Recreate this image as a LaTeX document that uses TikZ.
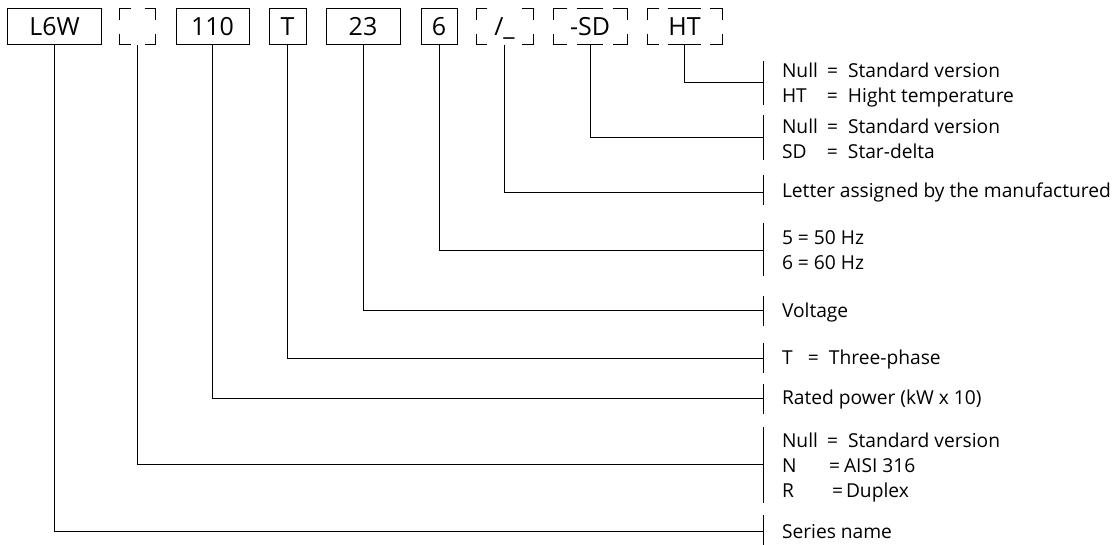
\documentclass[tikz,border=0pt]{standalone}
\usepackage{fontspec}
\setmainfont{Open Sans}
\newcommand\eqln[4]{\makebox[#2pt][l]{#1}\makebox[#3pt][l]{=}#4}
\newcommand\dcorners[3]{%
  \draw ([xshift=#2]#1.north west) -- (#1.north west) -- ([yshift=-#3]#1.north west);
  \draw ([xshift=-#2]#1.north east) -- (#1.north east) -- ([yshift=-#3]#1.north east);
  \draw ([xshift=#2]#1.south west) -- (#1.south west) -- ([yshift=#3]#1.south west);
  \draw ([xshift=-#2]#1.south east) -- (#1.south east) -- ([yshift=#3]#1.south east);}
\begin{document}
\begin{tikzpicture}[x=1pt,y=-1pt,line width=1pt,
  sbox/.style={draw,minimum height=36pt,inner sep=0pt,text height=17pt,text depth=0pt,
    font=\fontsize{25}{30}\selectfont},
  dbox/.style={sbox,draw=none,outer sep=0pt},
  desc/.style={anchor=base west,inner sep=0pt,font=\fontsize{19.2}{24}\selectfont},
  barline/.style={line width=1pt}]
\useasboundingbox (0,0) rectangle (1120,545);
% code boxes
\node[sbox,minimum width=94pt] (b1) at (54.5,27) {L6W};
\node[dbox,minimum width=36pt] (b2) at (137.5,27) {};
\node[sbox,minimum width=73pt] (b3) at (212.5,27) {110};
\node[sbox,minimum width=37pt] (b4) at (287.5,27) {T};
\node[sbox,minimum width=74pt] (b5) at (363,27) {23};
\node[sbox,minimum width=36pt] (b6) at (439,27) {6};
\node[dbox,minimum width=57pt] (b7) at (504.5,27) {/\_};
\node[dbox,minimum width=74pt] (b8) at (590,27) {-SD};
\node[dbox,minimum width=75pt] (b9) at (684.5,27) {HT};
% dashed outlines
\dcorners{b2}{11pt}{11pt}
\dcorners{b7}{11pt}{11pt}
\dcorners{b8}{14pt}{11pt}
\dcorners{b9}{12pt}{11pt}
\draw ([xshift=-13pt]b8.north) -- ([xshift=13pt]b8.north);
\draw ([xshift=-13pt]b8.south) -- ([xshift=13pt]b8.south);
\draw ([xshift=-17pt]b9.north) -- ([xshift=16pt]b9.north);
\draw ([xshift=-17pt]b9.south) -- ([xshift=16pt]b9.south);
% end points
\coordinate (e9) at (763,83);
\coordinate (e8) at (763,138);
\coordinate (e7) at (763,193);
\coordinate (e6) at (763,251);
\coordinate (e5) at (763,311);
\coordinate (e4) at (763,359);
\coordinate (e3) at (763,399);
\coordinate (e2) at (763,464);
\coordinate (e1) at (763,531);
% bars
\draw[barline] (763,61) -- (763,105);
\draw[barline] (763,115) -- (763,160);
\draw[barline] (763,175) -- (763,205);
\draw[barline] (763,223) -- (763,276);
\draw[barline] (763,296) -- (763,326);
\draw[barline] (763,343) -- (763,373);
\draw[barline] (763,384) -- (763,414);
\draw[barline] (763,427) -- (763,503);
\draw[barline] (763,515) -- (763,545);
% connectors
\draw (b9.south) |- (e9);
\draw (b8.south) |- (e8);
\draw (b7.south) |- (e7);
\draw (b6.south) |- (e6);
\draw (b5.south) |- (e5);
\draw (b4.south) |- (e4);
\draw (b3.south) |- (e3);
\draw (b2.south) |- (e2);
\draw (b1.south) |- (e1);
% descriptions
\node[desc] (t9a) at (781.5,78) {\eqln{Null}{45}{21}{Standard version}};
\node[desc] (t9b) at (781.5,103) {\eqln{HT}{45}{21}{Hight temperature}};
\node[desc] (t8a) at (781.5,134) {\eqln{Null}{45}{21}{Standard version}};
\node[desc] (t8b) at (781.5,159) {\eqln{SD}{45}{21}{Star-delta}};
\node[desc] (t7) at (781.5,198) {Letter assigned by the manufactured};
\node[desc] (t6a) at (781.5,245) {5 = 50 Hz};
\node[desc] (t6b) at (781.5,270) {6 = 60 Hz};
\node[desc] (t5) at (781.5,318) {Voltage};
\node[desc] (t4) at (781.5,365) {\eqln{T}{26}{21}{Three-phase}};
\node[desc] (t3) at (781.5,405) {Rated power (kW x 10)};
\node[desc] (t2a) at (781.5,447) {\eqln{Null}{45}{21}{Standard version}};
\node[desc] (t2b) at (781.5,472) {\eqln{N}{47}{15}{AISI 316}};
\node[desc] (t2c) at (781.5,497) {\eqln{R}{50}{14}{Duplex}};
\node[desc] (t1) at (781.5,538) {Series name};
\end{tikzpicture}
\end{document}
